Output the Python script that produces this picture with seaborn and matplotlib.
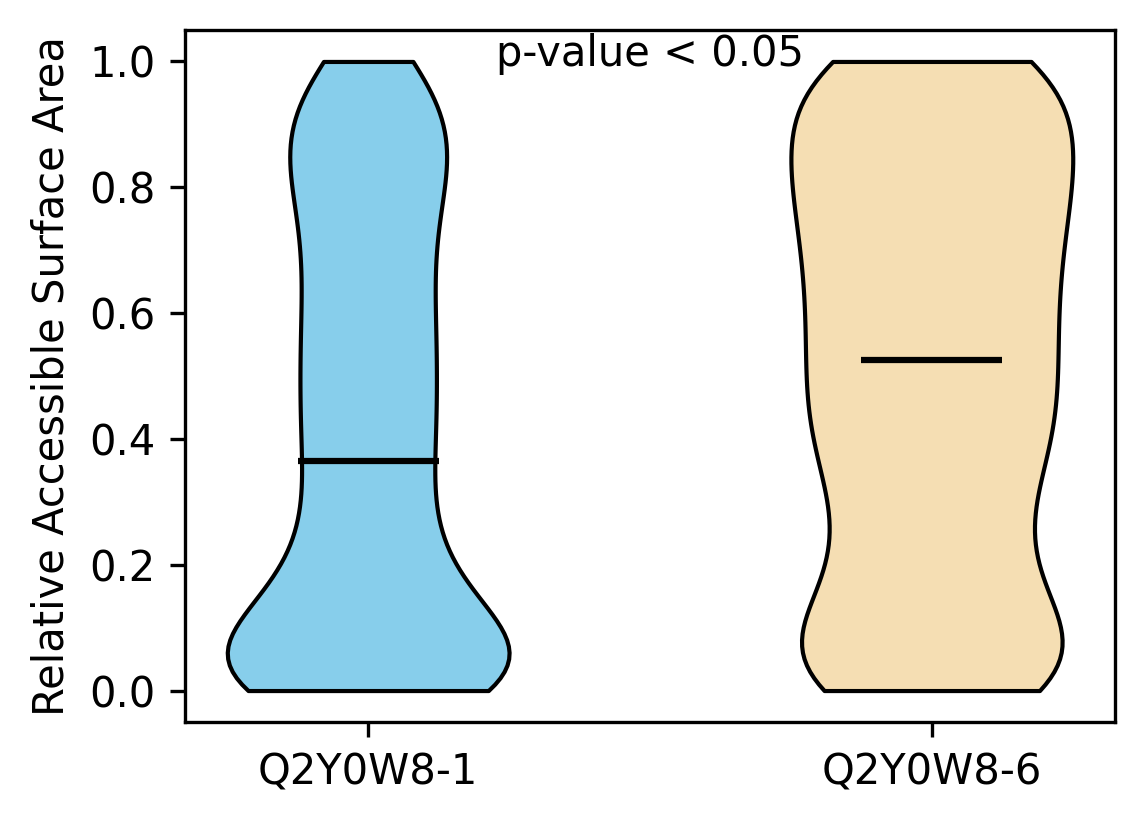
import numpy as np
import pandas as pd
import matplotlib
matplotlib.use("Agg")
import matplotlib.pyplot as plt
import seaborn as sns

proteins = ["Q2Y0W8-1", "Q2Y0W8-6"]
colors = ["#87CEEB", "#F5DEB3"]

rsa_bins = [0.0, 0.05, 0.10, 0.15, 0.20, 0.25, 0.30, 0.35, 0.365, 0.40, 0.45, 0.50,
            0.55, 0.60, 0.65, 0.70, 0.75, 0.80, 0.85, 0.90, 0.95, 1.0]
counts_q1 = [150, 132, 84, 60, 48, 42, 39, 39, 3, 44, 44, 44,
             44, 44, 41, 41, 44, 48, 58, 58, 45, 39]
counts_q6 = [52, 40, 31, 25, 21, 20, 22, 26, 0, 30, 30, 29,
             29, 29, 29, 30, 31, 33, 35, 33, 29, 48]

values = np.concatenate([np.repeat(rsa_bins, counts_q1), np.repeat(rsa_bins, counts_q6)])
groups = [proteins[0]] * sum(counts_q1) + [proteins[1]] * sum(counts_q6)
df = pd.DataFrame({"protein": groups, "rsa": values})

fig = plt.figure(figsize=(1144 / 300, 824 / 300), dpi=300)
ax = fig.add_axes([185 / 1144, 1 - 722 / 824, 930 / 1144, 692 / 824])

sns.violinplot(data=df, x="protein", y="rsa", hue="protein", palette=colors,
               order=proteins, hue_order=proteins, legend=False,
               cut=0, inner=None, width=0.5, density_norm="width",
               saturation=1, linecolor="black", linewidth=1, ax=ax)

for i, p in enumerate(proteins):
    med = np.median(df.loc[df.protein == p, "rsa"])
    ax.hlines(med, i - 0.125, i + 0.125, color="black", linewidth=1.5)

ax.set_xlim(-0.325, 1.325)
ax.set_ylim(-0.05, 1.05)
ax.set_xlabel("")
ax.set_ylabel("Relative Accessible Surface Area")
ax.text(0.5, 0.993, "p-value < 0.05", ha="center")
ax.grid(False)

fig.savefig("out.png", dpi=300)
